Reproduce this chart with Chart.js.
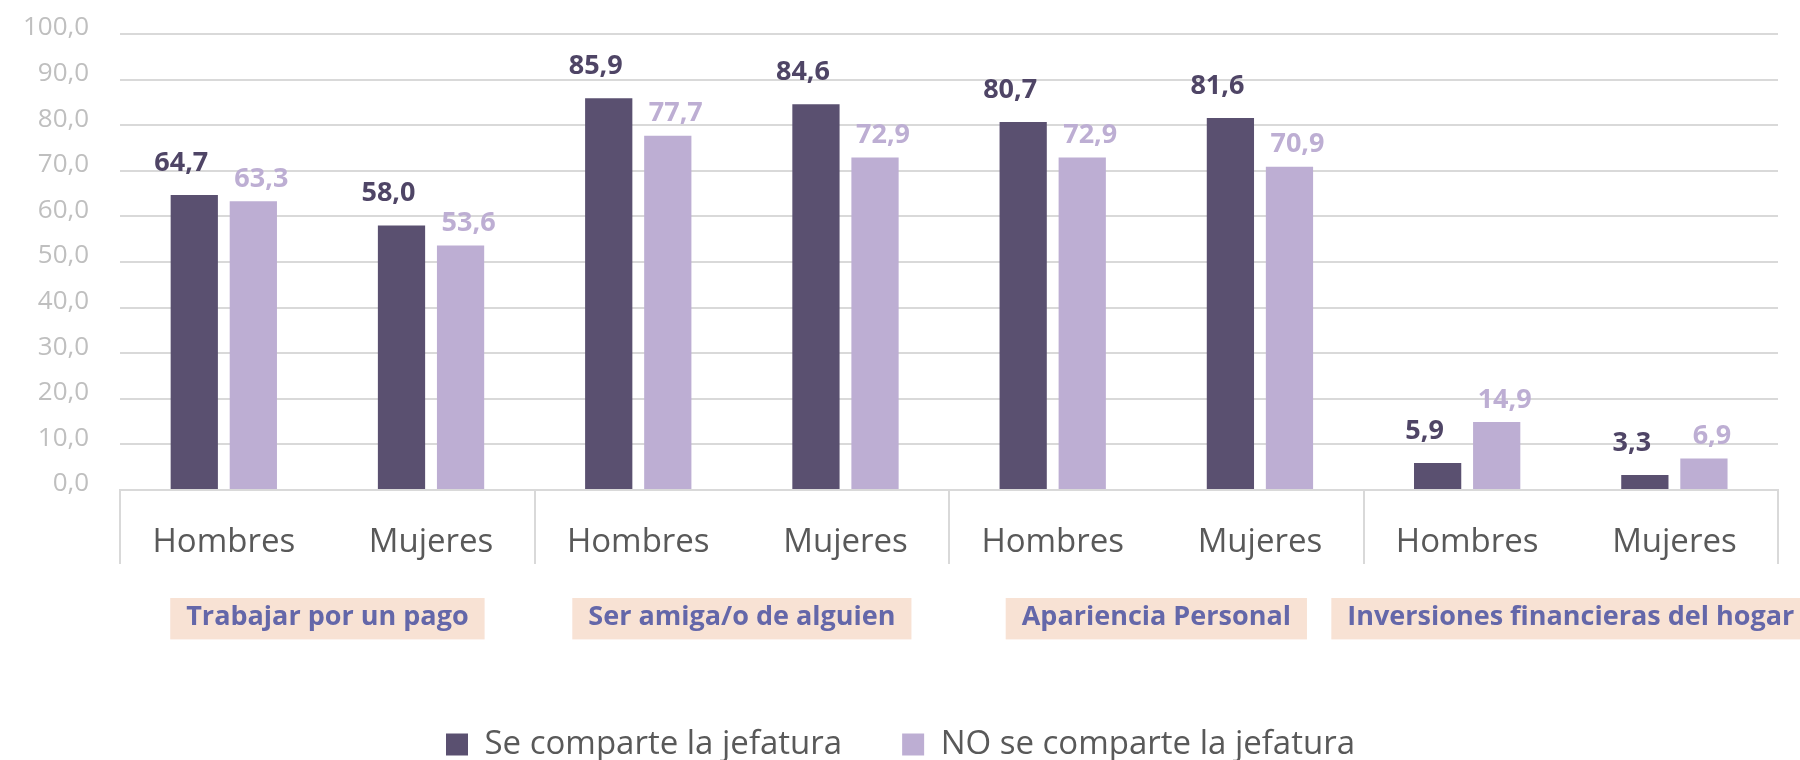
<!DOCTYPE html>
<html>
<head>
<meta charset="utf-8">
<script src="https://cdn.jsdelivr.net/npm/chart.js@4.4.1/dist/chart.umd.min.js"></script>
<style>
    html, body { margin: 0; padding: 0; background: #fff; overflow: hidden; }
    #wrap { width: 1800px; height: 771px; position: relative; }
</style>
</head>
<body>
<div id="wrap"><canvas id="barChart"></canvas></div>
<script>
    // Categories (two per group) and the group names shown under them
    const categories = ['Hombres', 'Mujeres', 'Hombres', 'Mujeres', 'Hombres', 'Mujeres', 'Hombres', 'Mujeres'];
    const groups = ['Trabajar por un pago', 'Ser amiga/o de alguien', 'Apariencia Personal', 'Inversiones financieras del hogar'];

    // Series
    const seriesNames = ['Se comparte la jefatura', 'NO se comparte la jefatura'];
    const shared = [64.7, 58.0, 85.9, 84.6, 80.7, 81.6, 5.9, 3.3];
    const notShared = [63.3, 53.6, 77.7, 72.9, 72.9, 70.9, 14.9, 6.9];

    // Y axis ticks
    const yTicks = [0, 10, 20, 30, 40, 50, 60, 70, 80, 90, 100];

    const barColors = ['#5a5070', '#bdaed3'];
    const labelColors = ['#4f4566', '#bdaed3'];
    const gridColor = '#d9d9d9';

    const fmt = v => v.toFixed(1).replace('.', ',');

    Chart.defaults.font.family = "'Open Sans', sans-serif";

    // Value labels above the bars (dark ones nudged left, light ones right)
    const valueLabels = {
        id: 'valueLabels',
        afterDatasetsDraw(chart) {
            const ctx = chart.ctx;
            ctx.save();
            ctx.font = "bold 27px 'Open Sans'";
            ctx.textAlign = 'center';
            ctx.textBaseline = 'middle';
            chart.data.datasets.forEach((ds, di) => {
                const meta = chart.getDatasetMeta(di);
                ctx.fillStyle = labelColors[di];
                meta.data.forEach((bar, i) => {
                    const dx = di === 0 ? -13 : 8;
                    const dy = di === 0 ? 32 : 22;
                    ctx.fillText(fmt(ds.data[i]), bar.x + dx, bar.y - dy);
                });
            });
            ctx.restore();
        }
    };

    const barData = {
        labels: categories,
        datasets: [{
            label: seriesNames[0],
            data: shared,
            backgroundColor: barColors[0],
            categoryPercentage: 0.57,
            barPercentage: 0.8
        }, {
            label: seriesNames[1],
            data: notShared,
            backgroundColor: barColors[1],
            categoryPercentage: 0.57,
            barPercentage: 0.8
        }]
    };

    const barOptions = {
        type: 'bar',
        data: barData,
        plugins: [valueLabels],
        options: {
            maintainAspectRatio: false,
            responsive: true,
            animation: false,
            layout: { padding: { top: 34, left: 23, right: 22, bottom: 0 } },
            scales: {
                y: {
                    min: 0,
                    max: 100,
                    afterBuildTicks: axis => { axis.ticks = yTicks.map(v => ({ value: v })); },
                    afterFit: axis => {
                        // chart.js counts the tick padding twice, keep it once
                        axis.width -= axis.options.ticks.padding;
                        axis.paddingTop = 0;
                        axis.paddingBottom = 0;
                    },
                    border: { display: false },
                    grid: { color: gridColor, lineWidth: 2, drawTicks: false },
                    ticks: {
                        callback: v => fmt(v),
                        color: '#bfbfbf',
                        font: { size: 26 },
                        padding: 31,
                        labelOffset: -6
                    }
                },
                x: {
                    offset: true,
                    afterFit: axis => {
                        axis.height = 108;
                        axis.paddingLeft = 0;
                        axis.paddingRight = 0;
                    },
                    border: { color: gridColor, width: 2 },
                    grid: {
                        offset: true,
                        drawOnChartArea: false,
                        tickLength: 74,
                        lineWidth: 2,
                        color: c => (c.index === undefined || c.index % 2 === 0) ? gridColor : 'rgba(0,0,0,0)'
                    },
                    ticks: {
                        color: '#595959',
                        font: { size: 33 },
                        padding: -41,
                        maxRotation: 0,
                        autoSkip: false
                    }
                },
                xGroup: {
                    type: 'category',
                    labels: groups,
                    position: 'bottom',
                    offset: true,
                    afterFit: axis => {
                        axis.height = 70;
                        axis.paddingLeft = 0;
                        axis.paddingRight = 0;
                    },
                    border: { display: false },
                    grid: { display: false, drawTicks: false },
                    ticks: {
                        color: '#6467a9',
                        font: { size: 27, weight: 'bold' },
                        padding: 3,
                        maxRotation: 0,
                        autoSkip: false,
                        showLabelBackdrop: true,
                        backdropColor: '#f8e2d4',
                        backdropPadding: { x: 16, y: 6 }
                    }
                }
            },
            plugins: {
                tooltip: { enabled: false },
                legend: {
                    position: 'bottom',
                    labels: {
                        boxWidth: 22,
                        boxHeight: 22,
                        padding: 60,
                        color: '#595959',
                        font: { size: 33 }
                    }
                }
            }
        }
    };

    new Chart(document.getElementById('barChart'), barOptions);
</script>
</body>
</html>
